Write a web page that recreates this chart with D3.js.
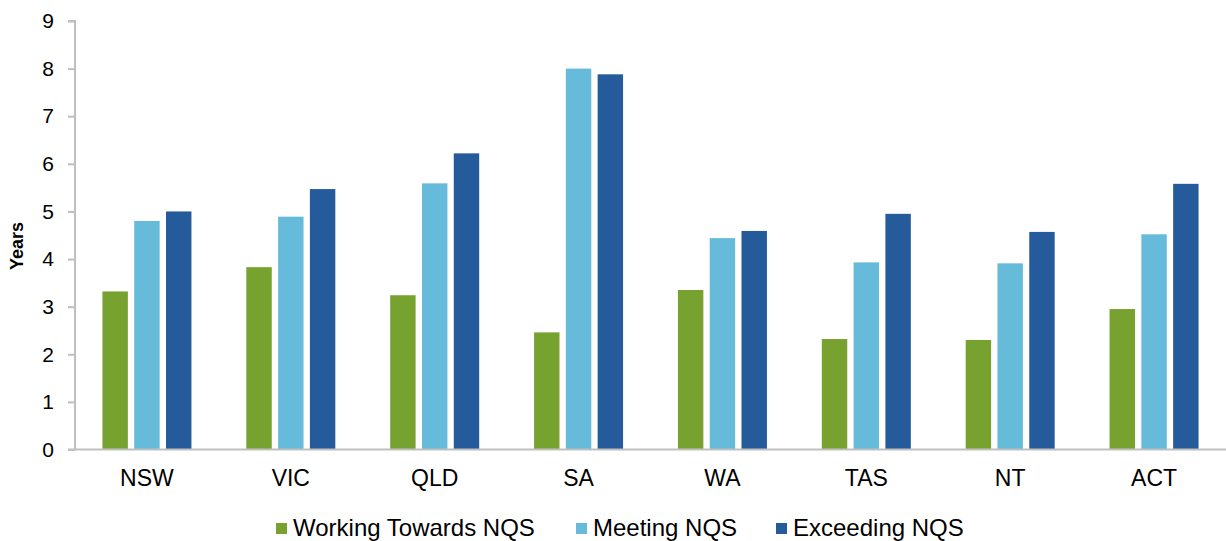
<!DOCTYPE html>
<html>
<head>
<meta charset="utf-8">
<script src="https://cdn.jsdelivr.net/npm/d3@7"></script>
<style>
  html, body { margin: 0; padding: 0; background: #fff; }
  svg { display: block; font-family: "Liberation Sans", Arial, sans-serif; }
</style>
</head>
<body>
<svg id="chart" width="1226" height="541"></svg>
<script>
const categories = ["NSW", "VIC", "QLD", "SA", "WA", "TAS", "NT", "ACT"];
const seriesNames = ["Working Towards NQS", "Meeting NQS", "Exceeding NQS"];
const workingTowards = [3.32, 3.83, 3.24, 2.46, 3.35, 2.32, 2.30, 2.95];
const meeting = [4.80, 4.89, 5.59, 8.00, 4.44, 3.93, 3.91, 4.52];
const exceeding = [5.00, 5.47, 6.22, 7.88, 4.59, 4.95, 4.57, 5.58];
const yTicks = [0, 1, 2, 3, 4, 5, 6, 7, 8, 9];
const colors = ["#78A22F", "#66BBDA", "#265B9B"];
const yTitle = "Years";

const seriesValues = [workingTowards, meeting, exceeding];
const data = categories.map((c, i) => ({
  cat: c,
  vals: seriesNames.map((s, j) => ({ series: s, value: seriesValues[j][i], color: colors[j] }))
}));

const svg = d3.select("#chart");
const mLeft = 75, mRight = 1226, mTop = 21, mBottom = 449.5;

const x0 = d3.scaleBand().domain(categories).range([mLeft, mRight]).padding(0);
const groupW = 89;
const off = (x0.bandwidth() - groupW) / 2;
const x1 = d3.scaleBand().domain(seriesNames).range([off, off + groupW]).paddingInner(0.2).paddingOuter(0);
const y = d3.scaleLinear().domain([0, 9]).range([mBottom, mTop]);

// Bars
const g = svg.append("g");
g.selectAll("g.grp").data(data).join("g")
  .attr("class", "grp")
  .attr("transform", d => `translate(${x0(d.cat)},0)`)
  .selectAll("rect").data(d => d.vals).join("rect")
  .attr("x", d => x1(d.series))
  .attr("width", x1.bandwidth())
  .attr("y", d => y(d.value))
  .attr("height", d => y(0) - y(d.value))
  .attr("fill", d => d.color);

// Y axis
const yAxis = d3.axisLeft(y).tickValues(yTicks).tickSize(7).tickPadding(14).tickFormat(d3.format("d"));
const ya = svg.append("g").attr("transform", `translate(${mLeft},0)`).call(yAxis);
ya.select(".domain").attr("stroke", "#BFBFBF").attr("stroke-width", 2).attr("d", `M-7,${mTop}H0V${mBottom}`);
ya.selectAll(".tick line").attr("stroke", "#BFBFBF").attr("stroke-width", 2);
ya.selectAll(".tick text").attr("font-size", 21).attr("fill", "#000").attr("font-family", "Liberation Sans, Arial, sans-serif");

// X axis
const xAxis = d3.axisBottom(x0).tickSize(0).tickPadding(20);
const xa = svg.append("g").attr("transform", `translate(0,${mBottom})`).call(xAxis);
xa.select(".domain").attr("stroke", "#BFBFBF").attr("stroke-width", 2).attr("d", `M${mLeft - 7},0H${mRight}`);
xa.selectAll(".tick text").attr("font-size", 23).attr("fill", "#000").attr("font-family", "Liberation Sans, Arial, sans-serif");

// Y title
svg.append("text")
  .attr("transform", `translate(23,246) rotate(-90)`)
  .attr("text-anchor", "middle")
  .attr("font-size", 18)
  .attr("font-weight", "bold")
  .attr("fill", "#000")
  .text(yTitle);

// Legend
const legendX = [276, 576, 776];
const lg = svg.append("g");
seriesNames.forEach((s, i) => {
  const it = lg.append("g").attr("transform", `translate(${legendX[i]},0)`);
  it.append("rect").attr("x", 0).attr("y", 523).attr("width", 11).attr("height", 11).attr("fill", colors[i]);
  it.append("text").attr("x", 17).attr("y", 536).attr("font-size", 24).attr("fill", "#000").text(s);
});
</script>
</body>
</html>
